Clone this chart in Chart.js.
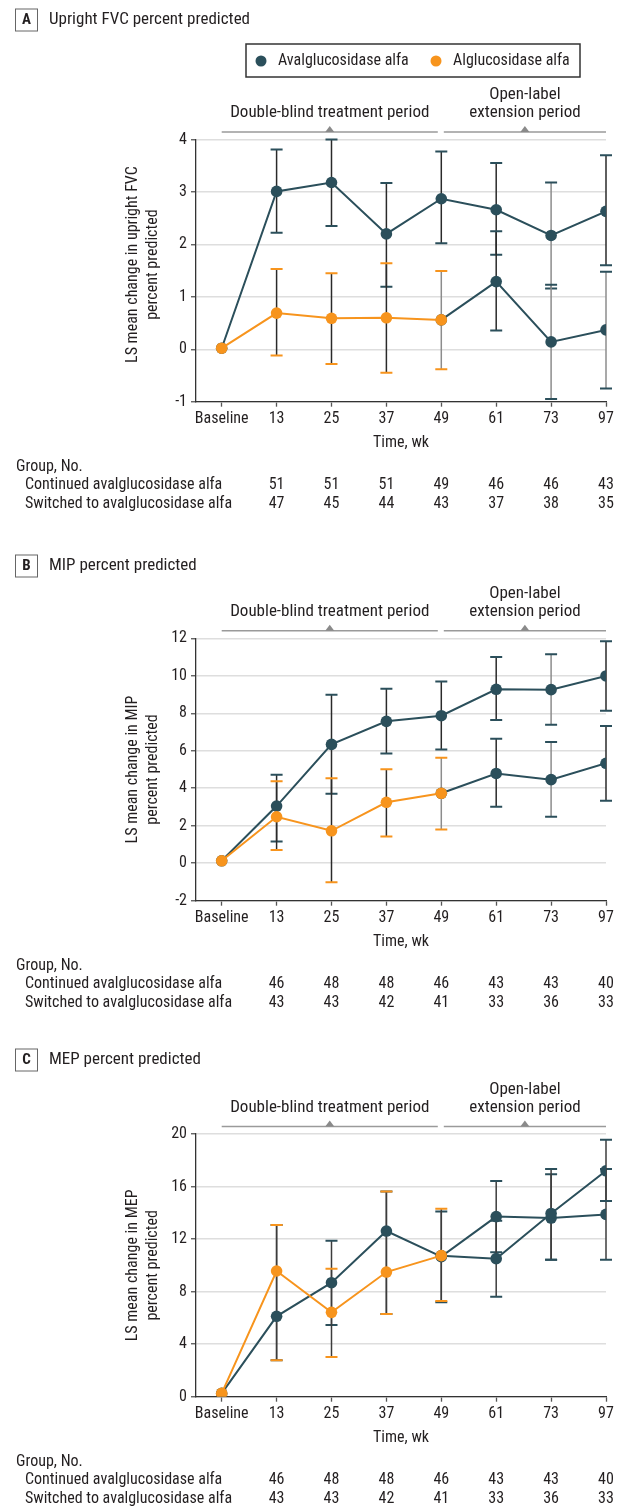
<!DOCTYPE html>
<html>
<head>
<meta charset="utf-8">
<script src="https://cdn.jsdelivr.net/npm/chart.js"></script>
<style>
  body { margin: 0; background: #fff; }
  canvas { position: absolute; left: 0; }
</style>
</head>
<body>
<canvas id="chartA" width="619" height="525" style="top:0px"></canvas>
<canvas id="chartB" width="619" height="500" style="top:525px"></canvas>
<canvas id="chartC" width="619" height="484" style="top:1025px"></canvas>

<script>
// ---- data ----
const weeks = ['Baseline', '13', '25', '37', '49', '61', '73', '97'];
const seriesNames = ['Avalglucosidase alfa', 'Alglucosidase alfa'];
const groupRows = ['Continued avalglucosidase alfa', 'Switched to avalglucosidase alfa'];

// A: upright FVC % predicted
const fvcContinued     = [0.02, 3.01, 3.18, 2.20, 2.87, 2.66, 2.17, 2.63];
const fvcContinuedLow  = [null, 2.22, 2.35, 1.19, 2.02, 1.80, 1.16, 1.60];
const fvcContinuedHigh = [null, 3.81, 4.00, 3.17, 3.77, 3.55, 3.18, 3.70];
const fvcSwitched      = [0.02, 0.69, 0.59, 0.60, 0.56, 1.29, 0.14, 0.37];
const fvcSwitchedLow   = [null, -0.12, -0.28, -0.45, -0.38, 0.36, -0.95, -0.75];
const fvcSwitchedHigh  = [null, 1.53, 1.45, 1.64, 1.49, 2.25, 1.23, 1.48];
const fvcNContinued = [51, 51, 51, 49, 46, 46, 43];
const fvcNSwitched  = [47, 45, 44, 43, 37, 38, 35];

// B: MIP % predicted
const mipContinued     = [0.13, 3.05, 6.34, 7.57, 7.87, 9.28, 9.26, 9.99];
const mipContinuedLow  = [null, 1.16, 3.71, 5.86, 6.07, 7.64, 7.39, 8.14];
const mipContinuedHigh = [null, 4.72, 8.99, 9.31, 9.69, 11.00, 11.15, 11.84];
const mipSwitched      = [0.13, 2.48, 1.73, 3.25, 3.73, 4.79, 4.46, 5.33];
const mipSwitchedLow   = [null, 0.70, -1.02, 1.43, 1.80, 3.01, 2.48, 3.33];
const mipSwitchedHigh  = [null, 4.37, 4.53, 5.02, 5.63, 6.64, 6.47, 7.32];
const mipNContinued = [46, 48, 48, 46, 43, 43, 40];
const mipNSwitched  = [43, 43, 42, 41, 33, 36, 33];

// C: MEP % predicted
const mepContinued     = [0.25, 6.12, 8.68, 12.61, 10.66, 13.71, 13.60, 13.88];
const mepContinuedLow  = [null, 2.77, 5.46, 6.29, 7.20, 11.00, 10.43, 10.43];
const mepContinuedHigh = [null, 13.07, 11.88, 15.63, 14.10, 16.42, 16.93, 17.33];
const mepSwitched      = [0.25, 9.57, 6.42, 9.49, 10.74, 10.51, 13.95, 17.20];
const mepSwitchedLow   = [null, 2.77, 3.02, 6.29, 7.28, 7.61, 10.43, 14.90];
const mepSwitchedHigh  = [null, 13.07, 9.75, 15.63, 14.30, 13.40, 17.33, 19.57];
const mepNContinued = [46, 48, 48, 46, 43, 43, 40];
const mepNSwitched  = [43, 43, 42, 41, 33, 36, 33];

// ---- styling ----
const FONT = '"Liberation Sans Narrow", "Roboto Condensed", "DejaVu Sans Condensed", Roboto, sans-serif';
const DARK = '#2b4f5b';
const ORANGE = '#f7941d';
const TEXT = '#231f20';
const STEM = '#2a2a2a';
const STEM_GRAY = '#8c8c8c';
const SWITCH_AT = 4; // week 49, patients switch to avalglucosidase alfa

Chart.defaults.font.family = FONT;
Chart.defaults.font.size = 16;
Chart.defaults.color = TEXT;

function text(ctx, str, x, y, align, font) {
  ctx.font = font || '16px ' + FONT;
  ctx.fillStyle = TEXT;
  ctx.textAlign = align || 'left';
  ctx.textBaseline = 'middle';
  ctx.fillText(str, x, y);
}

function drawErrorBar(ctx, x, yLo, yHi, stem, cap) {
  ctx.lineWidth = 1.5;
  ctx.strokeStyle = stem;
  ctx.beginPath();
  ctx.moveTo(x, yLo);
  ctx.lineTo(x, yHi);
  ctx.stroke();
  ctx.lineWidth = 2;
  ctx.strokeStyle = cap;
  ctx.beginPath();
  ctx.moveTo(x - 6, yLo); ctx.lineTo(x + 6, yLo);
  ctx.moveTo(x - 6, yHi); ctx.lineTo(x + 6, yHi);
  ctx.stroke();
}

const panelPlugin = {
  id: 'panel',
  beforeDatasetsDraw(chart, args, p) {
    const ctx = chart.ctx, xs = chart.scales.x, ys = chart.scales.y;
    ctx.save();
    const groups = [
      { low: p.contLow, high: p.contHigh, s: 0 },
      { low: p.swLow, high: p.swHigh, s: 1 }
    ];
    groups.forEach(g => {
      g.low.forEach((lo, i) => {
        if (lo === null) return;
        const gray = p.grayStems.some(([s, k]) => s === g.s && k === i);
        const cap = (g.s === 1 && i <= SWITCH_AT) ? ORANGE : DARK;
        drawErrorBar(ctx, xs.getPixelForValue(i), ys.getPixelForValue(lo),
          ys.getPixelForValue(g.high[i]), gray ? STEM_GRAY : p.stem, cap);
      });
    });
    ctx.restore();
  },
  afterDraw(chart, args, p) {
    const ctx = chart.ctx, xs = chart.scales.x, area = chart.chartArea;
    ctx.save();

    // panel letter + title
    ctx.strokeStyle = '#666';
    ctx.lineWidth = 1;
    ctx.strokeRect(15.5, p.titleY - 11, 22, 22);
    text(ctx, p.letter, 26.5, p.titleY + 0.5, 'center', 'bold 15px ' + FONT);
    text(ctx, p.title, 49, p.titleY, 'left', '17px ' + FONT);

    // legend
    if (p.legend) {
      ctx.strokeStyle = '#333';
      ctx.lineWidth = 1.5;
      ctx.strokeRect(246, 44, 334, 33);
      [[261, DARK, seriesNames[0], 278], [436, ORANGE, seriesNames[1], 453]].forEach(([cx, col, name, tx]) => {
        ctx.fillStyle = col;
        ctx.beginPath();
        ctx.arc(cx, 61, 5.5, 0, Math.PI * 2);
        ctx.fill();
        text(ctx, name, tx, 61);
      });
    }

    // treatment period brackets
    const top = area.top;
    const a0 = xs.getPixelForValue(0), a1 = xs.getPixelForValue(SWITCH_AT) - 3.5;
    const b0 = xs.getPixelForValue(SWITCH_AT) + 2.5, b1 = xs.getPixelForValue(weeks.length - 1);
    ctx.strokeStyle = '#9a9a9a';
    ctx.fillStyle = '#8a8a8a';
    ctx.lineWidth = 1.5;
    [[a0, a1], [b0, b1]].forEach(([l, r]) => {
      const y = top - 7.5, m = (l + r) / 2;
      ctx.beginPath(); ctx.moveTo(l, y); ctx.lineTo(r, y); ctx.stroke();
      ctx.beginPath(); ctx.moveTo(m - 4.5, y); ctx.lineTo(m + 4.5, y); ctx.lineTo(m, y - 6); ctx.closePath(); ctx.fill();
    });
    const pf = '17px ' + FONT;
    text(ctx, 'Double-blind treatment period', (a0 + a1) / 2, top - 26.5, 'center', pf);
    text(ctx, 'Open-label', (b0 + b1) / 2, top - 44.5, 'center', pf);
    text(ctx, 'extension period', (b0 + b1) / 2, top - 26.5, 'center', pf);

    // y axis title (two lines, rotated)
    ctx.save();
    ctx.translate(133, (area.top + area.bottom) / 2 + p.yTitleShift);
    ctx.rotate(-Math.PI / 2);
    text(ctx, p.yTitle[0], 0, 0, 'center');
    text(ctx, p.yTitle[1], 0, 20, 'center');
    ctx.restore();

    // x axis title
    const bot = area.bottom;
    text(ctx, 'Time, wk', (area.left + area.right) / 2, bot + 41.3, 'center');

    // numbers at risk
    text(ctx, 'Group, No.', 16, bot + 65.3);
    text(ctx, groupRows[0], 25, bot + 83.3);
    text(ctx, groupRows[1], 25, bot + 102.3);
    p.nCont.forEach((n, i) => text(ctx, String(n), xs.getPixelForValue(i + 1), bot + 83.3, 'center'));
    p.nSw.forEach((n, i) => text(ctx, String(n), xs.getPixelForValue(i + 1), bot + 102.3, 'center'));
    ctx.restore();
  }
};

function points(values, from, to) {
  return values.map((y, i) => ({ x: i, y })).filter(pt => pt.x >= from && pt.x <= to);
}

function lineSet(label, data, color, order) {
  return {
    label, data, order,
    borderColor: color, backgroundColor: color,
    pointBackgroundColor: color, pointBorderColor: color,
    borderWidth: 2, pointRadius: 5.8, pointBorderWidth: 0, tension: 0
  };
}

function makePanel(id, cfg) {
  const last = weeks.length - 1;
  new Chart(document.getElementById(id), {
    type: 'line',
    data: {
      datasets: [
        lineSet(seriesNames[1], points(cfg.sw, 0, SWITCH_AT), ORANGE, 0),
        lineSet(groupRows[1], points(cfg.sw, SWITCH_AT, last), DARK, 1),
        lineSet(groupRows[0], points(cfg.cont, 0, last), DARK, 2)
      ]
    },
    options: {
      responsive: false,
      animation: false,
      events: [],
      layout: { padding: { top: cfg.chartTop, left: 0, right: 13, bottom: cfg.padBottom } },
      plugins: {
        legend: { display: false },
        tooltip: { enabled: false },
        panel: cfg
      },
      scales: {
        x: {
          type: 'linear',
          min: -0.468, max: last,
          afterBuildTicks: s => { s.ticks = weeks.map((w, i) => ({ value: i })); },
          afterFit: s => { s.height = 30; },
          ticks: { callback: v => weeks[v], padding: 3, color: TEXT, font: { size: 16 }, maxRotation: 0, autoSkip: false },
          grid: { drawOnChartArea: false, drawTicks: true, tickLength: 5, tickColor: '#555', tickWidth: 1.3 },
          border: { color: '#333', width: 1.3 }
        },
        y: {
          min: cfg.yMin, max: cfg.yMax,
          afterFit: s => { s.width = 196; },
          ticks: { stepSize: cfg.yStep, padding: 4, color: TEXT, font: { size: 16 } },
          grid: { color: '#dedede', lineWidth: 1.5, tickLength: 5, tickColor: '#555', tickWidth: 1.3 },
          border: { color: '#333', width: 1.3 }
        }
      }
    },
    plugins: [panelPlugin]
  });
}

makePanel('chartA', {
  letter: 'A', title: 'Upright FVC percent predicted', titleY: 20, legend: true,
  yTitle: ['LS mean change in upright FVC', 'percent predicted'], yTitleShift: -6,
  yMin: -1, yMax: 4, yStep: 1, chartTop: 139.5, padBottom: 93.3,
  cont: fvcContinued, contLow: fvcContinuedLow, contHigh: fvcContinuedHigh,
  sw: fvcSwitched, swLow: fvcSwitchedLow, swHigh: fvcSwitchedHigh,
  nCont: fvcNContinued, nSw: fvcNSwitched,
  stem: STEM, grayStems: [[0, 6], [1, 6], [1, 4], [1, 7]]
});

makePanel('chartB', {
  letter: 'B', title: 'MIP percent predicted', titleY: 41, legend: false,
  yTitle: ['LS mean change in MIP', 'percent predicted'], yTitleShift: 0,
  yMin: -2, yMax: 12, yStep: 2, chartTop: 113.3, padBottom: 94.3,
  cont: mipContinued, contLow: mipContinuedLow, contHigh: mipContinuedHigh,
  sw: mipSwitched, swLow: mipSwitchedLow, swHigh: mipSwitchedHigh,
  nCont: mipNContinued, nSw: mipNSwitched,
  stem: STEM, grayStems: [[0, 6], [1, 6], [1, 4]]
});

makePanel('chartC', {
  letter: 'C', title: 'MEP percent predicted', titleY: 35, legend: false,
  yTitle: ['LS mean change in MEP', 'percent predicted'], yTitleShift: 0,
  yMin: 0, yMax: 20, yStep: 4, chartTop: 109, padBottom: 82.3,
  cont: mepContinued, contLow: mepContinuedLow, contHigh: mepContinuedHigh,
  sw: mepSwitched, swLow: mepSwitchedLow, swHigh: mepSwitchedHigh,
  nCont: mepNContinued, nSw: mepNSwitched,
  stem: '#3c3c3c', grayStems: []
});
</script>
</body>
</html>
